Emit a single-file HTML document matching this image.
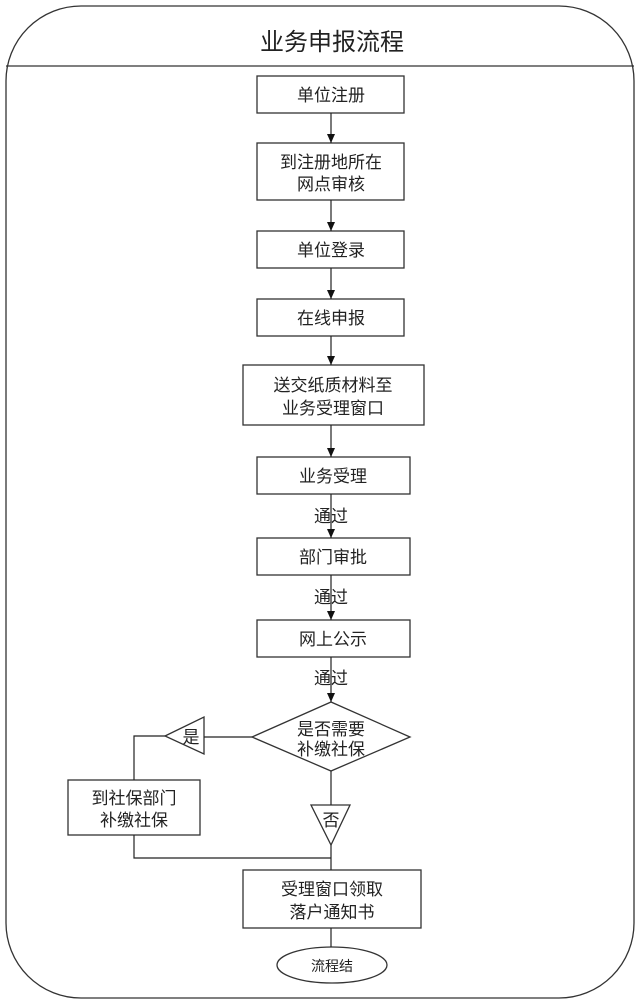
<!DOCTYPE html>
<html><head><meta charset="utf-8"><style>
html,body{margin:0;padding:0;background:#fff;}
svg{display:block;}
text{font-family:"Liberation Sans","Noto Sans CJK SC",sans-serif;fill:#222;text-anchor:middle;}
</style></head><body>
<svg width="640" height="1004" viewBox="0 0 640 1004" xmlns="http://www.w3.org/2000/svg">
<g fill="none" stroke="#333" stroke-width="1.3">
<rect x="6" y="6" width="628" height="992" rx="75" ry="75"/>
<line x1="6" y1="66" x2="634" y2="66"/>
<rect x="257" y="76" width="147" height="37"/>
<rect x="257" y="143" width="147" height="57"/>
<rect x="257" y="231" width="147" height="37"/>
<rect x="257" y="299" width="147" height="37"/>
<rect x="243" y="365" width="181" height="60"/>
<rect x="257" y="457" width="153" height="37"/>
<rect x="257" y="538" width="153" height="37"/>
<rect x="257" y="620" width="153" height="37"/>
<polygon points="252,737 331,702 410,737 331,771"/>
<polygon points="165,736 204,717 204,754"/>
<rect x="68" y="780" width="132" height="55"/>
<polygon points="311,805 350,805 331,845"/>
<rect x="243" y="870" width="178" height="58"/>
<ellipse cx="332" cy="965" rx="55" ry="18"/>
</g>
<g stroke="#222" stroke-width="1.2" fill="none">
<line x1="331" y1="113" x2="331" y2="143"/>
<line x1="331" y1="200" x2="331" y2="231"/>
<line x1="331" y1="268" x2="331" y2="299"/>
<line x1="331" y1="336" x2="331" y2="365"/>
<line x1="331" y1="425" x2="331" y2="457"/>
<line x1="331" y1="494" x2="331" y2="538"/>
<line x1="331" y1="575" x2="331" y2="620"/>
<line x1="331" y1="657" x2="331" y2="702"/>
<line x1="252" y1="737" x2="204" y2="737"/>
<polyline points="165,736 134,736 134,780"/>
<polyline points="134,835 134,858 331,858"/>
<line x1="331" y1="771" x2="331" y2="805"/>
<line x1="331" y1="845" x2="331" y2="870"/>
<line x1="331" y1="928" x2="331" y2="947"/>
</g>
<g fill="#111">
<polygon points="327,134 335,134 331,143"/>
<polygon points="327,222 335,222 331,231"/>
<polygon points="327,290 335,290 331,299"/>
<polygon points="327,356 335,356 331,365"/>
<polygon points="327,448 335,448 331,457"/>
<polygon points="327,529 335,529 331,538"/>
<polygon points="327,611 335,611 331,620"/>
<polygon points="327,693 335,693 331,702"/>
</g>
<text x="332" y="50" font-size="24">业务申报流程</text>
<g font-size="17">
<text x="331" y="101">单位注册</text>
<text x="331" y="168">到注册地所在</text>
<text x="331" y="190">网点审核</text>
<text x="331" y="256">单位登录</text>
<text x="331" y="324">在线申报</text>
<text x="333" y="391">送交纸质材料至</text>
<text x="333" y="414">业务受理窗口</text>
<text x="333" y="482">业务受理</text>
<text x="333" y="563">部门审批</text>
<text x="333" y="645">网上公示</text>
<text x="331" y="522">通过</text>
<text x="331" y="603">通过</text>
<text x="331" y="684">通过</text>
<text x="331" y="735">是否需要</text>
<text x="331" y="755">补缴社保</text>
<text x="191" y="743">是</text>
<text x="134" y="804">到社保部门</text>
<text x="134" y="826">补缴社保</text>
<text x="331" y="826">否</text>
<text x="332" y="895">受理窗口领取</text>
<text x="332" y="918">落户通知书</text>
</g>
<text x="332" y="971" font-size="14">流程结</text>
</svg>
</body></html>
